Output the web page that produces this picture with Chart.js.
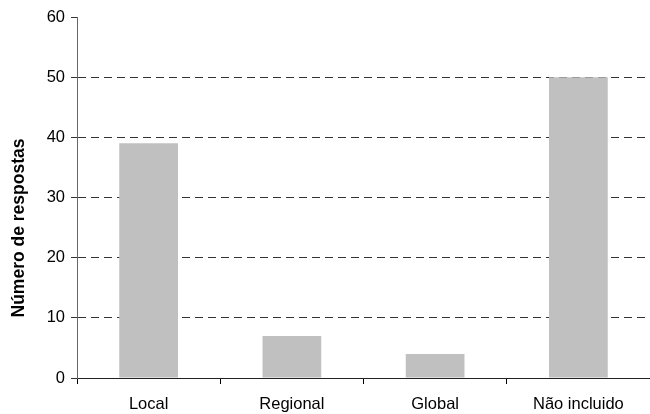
<!DOCTYPE html>
<html>
<head>
<meta charset="utf-8">
<script src="https://cdn.jsdelivr.net/npm/chart.js@4/dist/chart.umd.min.js"></script>
<style>
  html, body { margin: 0; padding: 0; background: #fff; }
  #wrap { width: 650px; height: 414px; }
</style>
</head>
<body>
<div id="wrap"><canvas id="c" width="650" height="414"></canvas></div>
<script>
const categories = ['Local', 'Regional', 'Global', 'Não incluido'];
const respostas = [39, 7, 4, 50];
const yTicks = [0, 10, 20, 30, 40, 50, 60];
const yTitle = 'Número de respostas';

const family = 'Liberation Sans, Arial, sans-serif';
const font = { family: family, size: 16.5 };

// Vertical axis title, drawn beside the y axis and centred slightly below the plot middle
const axisTitle = {
  id: 'axisTitle',
  afterDraw(chart) {
    const ctx = chart.ctx;
    ctx.save();
    ctx.translate(19, 228);
    ctx.rotate(-Math.PI / 2);
    ctx.font = 'bold 17.5px ' + family;
    ctx.fillStyle = '#000';
    ctx.textAlign = 'center';
    ctx.textBaseline = 'middle';
    ctx.fillText(yTitle, 0, 0);
    ctx.restore();
  }
};

new Chart(document.getElementById('c'), {
  type: 'bar',
  data: {
    labels: categories,
    datasets: [{
      data: respostas,
      backgroundColor: '#c0c0c0',
      borderWidth: 0,
      barPercentage: 0.82,
      categoryPercentage: 0.5
    }]
  },
  plugins: [axisTitle],
  options: {
    responsive: false,
    animation: false,
    events: [],
    layout: { padding: { top: 17, right: 0, left: 0, bottom: 0 } },
    plugins: { legend: { display: false }, tooltip: { enabled: false } },
    scales: {
      x: {
        offset: true,
        afterFit: (s) => { s.height = 36; },
        grid: {
          offset: true,
          drawOnChartArea: false,
          tickLength: 6,
          tickColor: '#000',
          tickWidth: 1
        },
        border: { color: '#222', width: 1 },
        ticks: { color: '#000', font: font, padding: 11, maxRotation: 0 }
      },
      y: {
        min: 0,
        max: 60,
        afterBuildTicks: (s) => { s.ticks = yTicks.map(v => ({ value: v })); },
        afterFit: (s) => { s.width = 77; },
        grid: {
          color: (ctx) => (ctx.tick && (ctx.tick.value === 0 || ctx.tick.value === 60)) ? 'rgba(0,0,0,0)' : '#333',
          lineWidth: 1,
          tickLength: 6,
          tickColor: '#333',
          tickBorderDash: [],
          drawTicks: true
        },
        border: { color: '#666', width: 1, dash: [8, 5] },
        ticks: { color: '#000', font: font, padding: 6 }
      }
    }
  }
});
</script>
</body>
</html>
